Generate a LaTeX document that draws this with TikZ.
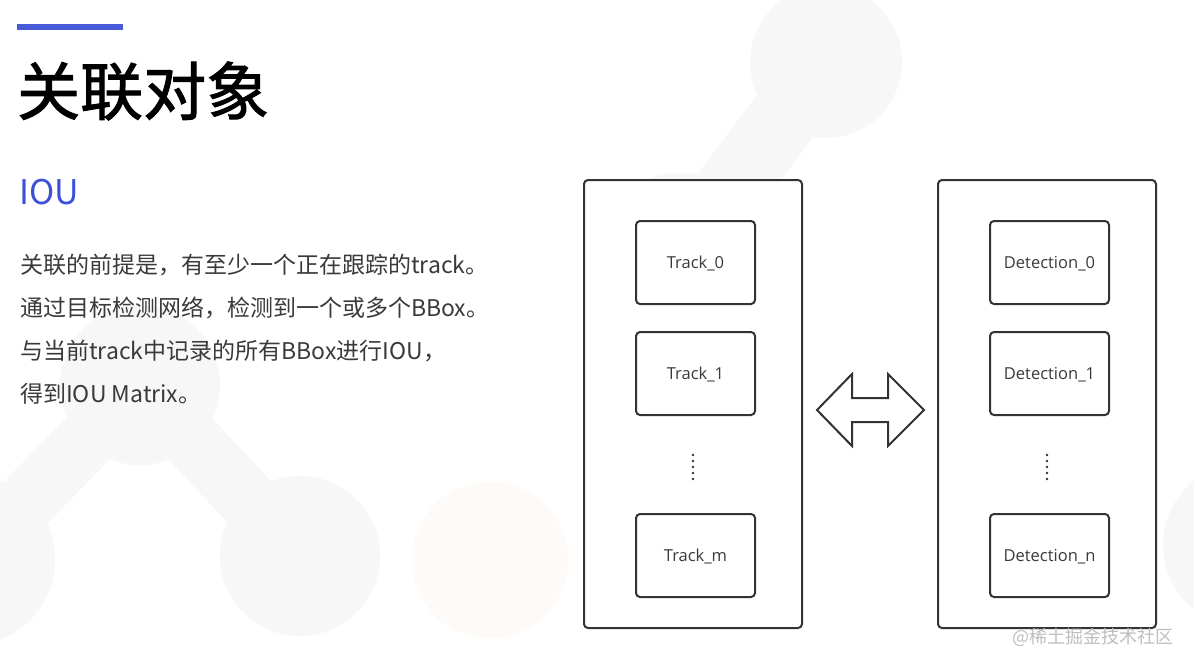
\documentclass[tikz,border=0pt]{standalone}
\usepackage{fontspec}
\setmainfont{Noto Sans CJK SC}
\newfontfamily\cjk{Noto Sans CJK SC}
\newfontfamily\cjktitle[FakeBold=1.6]{Noto Sans CJK SC}
\newfontfamily\lblfont{Open Sans}
\definecolor{barblue}{RGB}{74,91,217}
\definecolor{ioublue}{RGB}{59,79,217}
\definecolor{bodytext}{RGB}{58,58,58}
\definecolor{boxline}{RGB}{51,51,51}
\definecolor{bgblob}{RGB}{247,247,247}
\definecolor{bgorange}{RGB}{253,250,247}
\definecolor{wmark}{RGB}{190,190,190}
\tikzset{
  outerbox/.style={draw=boxline, line width=2pt, fill=white, rounded corners=4pt,
    minimum width=218pt, minimum height=448pt, inner sep=0pt},
  innerbox/.style={draw=boxline, line width=2pt, fill=white, rounded corners=4pt,
    minimum width=119pt, minimum height=83pt, inner sep=0pt, text depth=0pt,
    font=\lblfont\fontsize{16.5}{19}\selectfont, text=bodytext},
  bodyline/.style={anchor=west, inner sep=0pt, text=bodytext,
    font=\cjk\fontsize{23}{28}\selectfont},
  blob/.style={fill=bgblob, draw=none},
  neck/.style={draw=bgblob, line cap=round},
  dotmark/.style={fill=boxline, draw=none}
}
\begin{document}
\begin{tikzpicture}[x=1pt,y=-1pt]
\useasboundingbox (0,0) rectangle (1194,667);
\fill[white] (0,0) rectangle (1194,667);
% background blobs
\begin{scope}
\clip (0,0) rectangle (1194,667);
\fill[blob] (826,62) circle[radius=76pt];
\fill[blob] (680,255) circle[radius=82pt];
\draw[neck, line width=70pt] (826,62) -- (680,255);
\fill[blob] (140,385) circle[radius=80pt];
\fill[blob] (300,556) circle[radius=80pt];
\fill[blob] (-30,560) circle[radius=85pt];
\draw[neck, line width=60pt] (140,385) -- (300,556);
\draw[neck, line width=60pt] (140,385) -- (-30,560);
\fill[bgorange] (490,560) circle[radius=78pt];
\fill[blob] (1245,545) circle[radius=82pt];
\end{scope}
% header
\fill[barblue] (17,24) rectangle (123,30);
\node[anchor=west, inner sep=0pt, font=\cjktitle\fontsize{63}{70}\selectfont, text=black] (title) at (17,91) {关联对象};
\node[anchor=west, inner sep=0pt, font=\cjk\fontsize{34}{40}\selectfont, text=ioublue] (iou) at (19,192) {IOU};
\node[bodyline] (l1) at (20,265) {关联的前提是，有至少一个正在跟踪的track。};
\node[bodyline] (l2) at (20,308) {通过目标检测网络，检测到一个或多个BBox。};
\node[bodyline] (l3) at (20,351) {与当前track中记录的所有BBox进行IOU，};
\node[bodyline] (l4) at (20,394) {得到IOU Matrix。};
% containers
\node[outerbox] (L) at (693,404) {};
\node[outerbox] (R) at (1047,404) {};
\node[innerbox] (t0) at (695.5,262.5) {Track\_0};
\node[innerbox] (t1) at (695.5,373.5) {Track\_1};
\node[innerbox] (tm) at (695.5,555.5) {Track\_m};
\node[innerbox] (d0) at (1049.5,262.5) {Detection\_0};
\node[innerbox] (d1) at (1049.5,373.5) {Detection\_1};
\node[innerbox] (dn) at (1049.5,555.5) {Detection\_n};
% vertical dots
\foreach \yy in {455,461,467,473,479} {
  \fill[dotmark] (693,\yy) circle[radius=1.3pt];
  \fill[dotmark] (1047,\yy) circle[radius=1.3pt];
}
% double arrow
\draw[draw=boxline, fill=white, line width=2pt, line join=miter]
  (817,410) -- (852,374) -- (852,398) -- (888,398) -- (888,374) -- (924,410)
  -- (888,446) -- (888,422) -- (852,422) -- (852,446) -- cycle;
% watermark
\node[anchor=west, inner sep=0pt, font=\cjk\fontsize{18}{20}\selectfont, text=wmark] (wm) at (1012,637) {@稀土掘金技术社区};
\end{tikzpicture}
\end{document}
